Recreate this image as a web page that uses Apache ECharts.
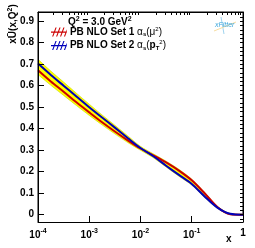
<!DOCTYPE html>
<html><head><meta charset="utf-8">
<script src="https://cdn.jsdelivr.net/npm/echarts@6/dist/echarts.min.js"></script>
<style>html,body{margin:0;padding:0;background:#fff}#c{width:255px;height:248px}</style>
</head><body><div id="c"></div>
<script>
// x values (quarter decades from 1e-4 to 1)
var xValues = [0.0001, 0.000178, 0.000316, 0.000562, 0.001, 0.00178, 0.00316, 0.00562, 0.01, 0.0178, 0.0316, 0.0562, 0.1, 0.178, 0.316, 0.562, 1];
// PB NLO Set 1 (alpha_s(mu^2)) central values
var set1Values = [0.672, 0.620, 0.572, 0.523, 0.476, 0.430, 0.387, 0.346, 0.308, 0.276, 0.243, 0.205, 0.160, 0.100, 0.036, 0.002, 0.000];
// PB NLO Set 2 (alpha_s(pT^2)) central values
var set2Values = [0.703, 0.650, 0.600, 0.550, 0.500, 0.452, 0.405, 0.357, 0.310, 0.272, 0.228, 0.185, 0.143, 0.085, 0.033, 0.004, 0.000];
// uncertainty half-widths
var set1Err = [0.020, 0.018, 0.017, 0.015, 0.014, 0.012, 0.011, 0.010, 0.008, 0.007, 0.006, 0.006, 0.005, 0.004, 0.003, 0.002, 0.002];
var set2Err = [0.020, 0.018, 0.017, 0.015, 0.014, 0.012, 0.011, 0.010, 0.008, 0.007, 0.006, 0.006, 0.005, 0.004, 0.003, 0.002, 0.002];
// tick values
var xMajorTicks = [0.0001, 0.001, 0.01, 0.1, 1];
var xMinorTicks = [];
[0.0001, 0.001, 0.01, 0.1].forEach(function (d) { for (var k = 2; k <= 9; k++) xMinorTicks.push(+(d * k).toPrecision(3)); });
var yMajorTicks = [0, 0.1, 0.2, 0.3, 0.4, 0.5, 0.6, 0.7, 0.8, 0.9];
var yMinorTicks = [];
for (var i = -1; i <= 47; i++) yMinorTicks.push(+(i * 0.02).toFixed(2));

var FONT = '"Liberation Sans", Arial, sans-serif';
var RED = '#cc0000', BLUE = '#0000bb', YELLOW = '#ffff00';

function pairs(xs, ys) { return xs.map(function (x, i) { return [x, ys[i]]; }); }
// union of the two uncertainty bands
var bandUpper = set1Values.map(function (v, i) { return +Math.max(v + set1Err[i], set2Values[i] + set2Err[i]).toFixed(4); });
var bandLower = set1Values.map(function (v, i) { return +Math.min(v - set1Err[i], set2Values[i] - set2Err[i]).toFixed(4); });

var SMOOTH = 0.3;
var hatch = 'path://M0,7L28,7L28,9.5L0,9.5Z M2,16L8,0L10,0L4,16Z M9,16L15,0L17,0L11,16Z M16,16L22,0L24,0L18,16Z M23,16L28,3L28,8L25,16Z';

var chart = echarts.init(document.getElementById('c'), null, { renderer: 'canvas' });
var xAxisBase = { type: 'log', logBase: 10, min: 0.0001, max: 1, gridIndex: 0, z: 10,
  axisLine: { show: true, onZero: false, lineStyle: { color: '#000', width: 1 } }, splitLine: { show: false } };
var yAxisBase = { type: 'value', min: -0.034, max: 0.943, gridIndex: 0, z: 10,
  axisLine: { show: true, onZero: false, lineStyle: { color: '#000', width: 1 } }, splitLine: { show: false } };

var option = {
  animation: false,
  textStyle: { fontFamily: FONT },
  grid: { left: 38, right: 12, top: 12, bottom: 26, show: true, borderColor: '#000', borderWidth: 1, backgroundColor: 'transparent' },
  xAxis: [
    Object.assign({}, xAxisBase, {
      axisTick: { show: true, inside: true, length: 6, customValues: xMajorTicks, lineStyle: { color: '#000' } },
      axisLabel: { show: true, customValues: xMajorTicks, margin: 6,
        formatter: function (v) { if (Math.abs(v - 1) < 1e-9) return '{b|1}'; return '{b|10}{sup|' + Math.round(Math.log10(v)) + '}'; },
        rich: { b: { fontFamily: FONT, fontWeight: 'bold', fontSize: 10, color: '#000' },
                sup: { fontFamily: FONT, fontWeight: 'bold', fontSize: 7, color: '#000', padding: [0, 0, 7, 0] } } }
    }),
    Object.assign({}, xAxisBase, {
      axisTick: { show: true, inside: true, length: 3, customValues: xMinorTicks, lineStyle: { color: '#000' } },
      axisLabel: { show: false }
    })
  ],
  yAxis: [
    Object.assign({}, yAxisBase, {
      axisTick: { show: true, inside: true, length: 6, customValues: yMajorTicks, lineStyle: { color: '#000' } },
      axisLabel: { show: true, customValues: yMajorTicks, margin: 4, fontFamily: FONT, fontWeight: 'bold', fontSize: 10, color: '#000',
        formatter: function (v) { return Math.abs(v) < 1e-9 ? '0' : v.toFixed(1); } }
    }),
    Object.assign({}, yAxisBase, {
      axisTick: { show: true, inside: true, length: 3, customValues: yMinorTicks, lineStyle: { color: '#000' } },
      axisLabel: { show: false }
    })
  ],
  legend: {
    data: ['PB NLO Set 1', 'PB NLO Set 2'], orient: 'vertical', left: 46, top: 21,
    itemWidth: 16, itemHeight: 9, itemGap: 2, icon: hatch,
    formatter: function (name) {
      if (name === 'PB NLO Set 1') return '{b|PB NLO Set 1 }{g|α}{sub|s}{g|(μ}{sup|2}{g|)}';
      return '{b|PB NLO Set 2 }{g|α}{sub|s}{g|(}{pb|p}{sub|T}{sup|2}{g|)}';
    },
    textStyle: { fontFamily: FONT, color: '#000', padding: [0, 0, 0, -2],
      rich: { b: { fontFamily: FONT, fontWeight: 'bold', fontSize: 10, color: '#000' },
              g: { fontFamily: FONT, fontSize: 10, color: '#000' },
              pb: { fontFamily: FONT, fontWeight: 'bold', fontSize: 10, color: '#000' },
              sub: { fontFamily: FONT, fontWeight: 'bold', fontSize: 6, color: '#000', padding: [5, 0, 0, 0] },
              sup: { fontFamily: FONT, fontSize: 6, color: '#000', padding: [0, 0, 6, 0] } } }
  },
  title: {
    text: '{b|Q}{sup|2}{b| = 3.0 GeV}{sup|2}', left: 63, top: 11,
    textStyle: { rich: { b: { fontFamily: FONT, fontWeight: 'bold', fontSize: 10, color: '#000' },
                         sup: { fontFamily: FONT, fontWeight: 'bold', fontSize: 7, color: '#000', padding: [0, 0, 6, 0] } } }
  },
  graphic: [
    { type: 'text', x: 13, y: 24, rotation: Math.PI / 2,
      style: { text: '{b|xŪ(x,Q}{sup|2}{b|)}', align: 'center', verticalAlign: 'middle',
        rich: { b: { fontFamily: FONT, fontWeight: 'bold', fontSize: 10, fill: '#000' },
                sup: { fontFamily: FONT, fontWeight: 'bold', fontSize: 7, fill: '#000', padding: [0, 0, 6, 0] } } } },
    { type: 'text', x: 226, y: 234, style: { text: 'x', font: 'bold 10px ' + FONT, fill: '#000' } },
    { type: 'line', shape: { x1: 221, y1: 17, x2: 224, y2: 34 }, style: { stroke: '#9fd3ee', lineWidth: 1 } },
    { type: 'line', shape: { x1: 214, y1: 31, x2: 236, y2: 22 }, style: { stroke: '#f6dca0', lineWidth: 1 } },
    { type: 'text', x: 215, y: 22, style: { text: 'xFitter', font: 'italic 7px ' + FONT, fill: '#3aa6dc' } }
  ],
  series: [
    { type: 'line', name: 'bandUpper', data: pairs(xValues, bandUpper), symbol: 'none', smooth: SMOOTH,
      lineStyle: { color: '#c8d800', width: 0.6 }, areaStyle: { color: YELLOW, opacity: 1, origin: 'start' }, silent: true, z: 1 },
    { type: 'line', name: 'bandLower', data: pairs(xValues, bandLower), symbol: 'none', smooth: SMOOTH,
      lineStyle: { color: '#c8d800', width: 0.6 }, areaStyle: { color: '#ffffff', opacity: 1, origin: 'start' }, silent: true, z: 1 },
    { type: 'line', name: 'PB NLO Set 1', data: pairs(xValues, set1Values), symbol: 'none', smooth: SMOOTH,
      itemStyle: { color: RED }, lineStyle: { color: RED, width: 2 }, z: 3 },
    { type: 'line', name: 'PB NLO Set 2', data: pairs(xValues, set2Values), symbol: 'none', smooth: SMOOTH,
      itemStyle: { color: BLUE }, lineStyle: { color: BLUE, width: 2 }, z: 4 }
  ]
};
chart.setOption(option);
</script></body></html>
